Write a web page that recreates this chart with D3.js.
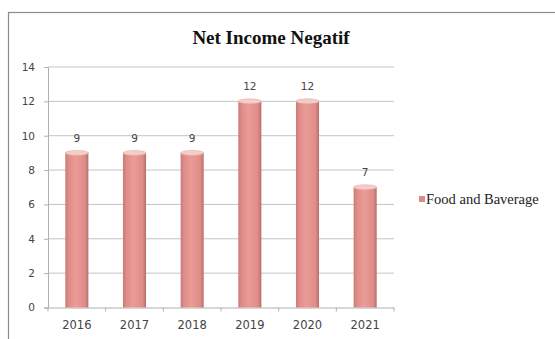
<!DOCTYPE html>
<html lang="en">
<head>
  <meta charset="UTF-8">
  <title>Net Income Negatif</title>
  <script src="https://d3js.org/d3.v7.min.js"></script>
  <style>
    body { margin: 0; background: #fff; }
    svg { display: block; }
    .tick-label { font-family: "DejaVu Sans", sans-serif; font-size: 10.5px; fill: #444; }
    .x-label { font-family: "DejaVu Sans", sans-serif; font-size: 11.5px; fill: #444; }
    .value-label { font-family: "DejaVu Sans", sans-serif; font-size: 10.5px; fill: #444; text-anchor: middle; }
  </style>
</head>
<body>
<svg width="555" height="339"></svg>
<script>
const years = ["2016", "2017", "2018", "2019", "2020", "2021"];
const values = [9, 9, 9, 12, 12, 7];
const yTicks = [0, 2, 4, 6, 8, 10, 12, 14];
const seriesName = "Food and Baverage";
const title = "Net Income Negatif";

const svg = d3.select("svg");

// outer chart frame (cropped on right/bottom in the reference)
svg.append("rect")
  .attr("x", 8.5).attr("y", 12.5)
  .attr("width", 600).attr("height", 400)
  .attr("fill", "#fff")
  .attr("stroke", "#8a8a8a")
  .attr("stroke-width", 1.2);

const plot = { left: 48, right: 394, top: 67, bottom: 307.5 };

const x = d3.scaleBand()
  .domain(years)
  .range([plot.left, plot.right])
  .paddingInner(0.6)
  .paddingOuter(0.3);

const y = d3.scaleLinear()
  .domain([0, 14])
  .range([plot.bottom, plot.top]);

// gradient for cylinder look
const defs = svg.append("defs");
const grad = defs.append("linearGradient").attr("id", "cyl")
  .attr("x1", "0%").attr("x2", "100%").attr("y1", "0%").attr("y2", "0%");
grad.append("stop").attr("offset", "0%").attr("stop-color", "#c97a78");
grad.append("stop").attr("offset", "15%").attr("stop-color", "#e08c88");
grad.append("stop").attr("offset", "45%").attr("stop-color", "#eb9c97");
grad.append("stop").attr("offset", "85%").attr("stop-color", "#e08c88");
grad.append("stop").attr("offset", "100%").attr("stop-color", "#b86e6c");

// gridlines
svg.append("g")
  .selectAll("line")
  .data(yTicks.filter(d => d > 0))
  .join("line")
  .attr("x1", plot.left).attr("x2", plot.right)
  .attr("y1", d => y(d)).attr("y2", d => y(d))
  .attr("stroke", "#c4c4c4").attr("stroke-width", 1);

// y axis
const yAxis = svg.append("g")
  .attr("transform", `translate(${plot.left},0)`)
  .call(d3.axisLeft(y).tickValues(yTicks).tickSize(4).tickPadding(9));
yAxis.select(".domain").attr("stroke", "#b0b0b0");
yAxis.selectAll(".tick line").attr("stroke", "#b0b0b0");
yAxis.selectAll(".tick text").attr("class", "tick-label");

// x axis
const xAxis = svg.append("g")
  .attr("transform", `translate(0,${plot.bottom})`)
  .call(d3.axisBottom(x).tickSize(0).tickPadding(13));
xAxis.select(".domain").attr("stroke", "#b0b0b0");
xAxis.selectAll(".tick text").attr("class", "x-label");

// category separator ticks
svg.append("g")
  .selectAll("line")
  .data(d3.range(years.length + 1))
  .join("line")
  .attr("x1", i => plot.left + i * (plot.right - plot.left) / years.length)
  .attr("x2", i => plot.left + i * (plot.right - plot.left) / years.length)
  .attr("y1", plot.bottom).attr("y2", plot.bottom + 4)
  .attr("stroke", "#b0b0b0");

// bars
const bars = svg.append("g")
  .selectAll("g")
  .data(years.map((yr, i) => ({ yr, v: values[i] })))
  .join("g");

bars.append("rect")
  .attr("x", d => x(d.yr))
  .attr("y", d => y(d.v))
  .attr("width", x.bandwidth())
  .attr("height", d => y(0) - y(d.v))
  .attr("fill", "url(#cyl)");

bars.append("ellipse")
  .attr("cx", d => x(d.yr) + x.bandwidth() / 2)
  .attr("cy", d => y(d.v))
  .attr("rx", x.bandwidth() / 2)
  .attr("ry", 2.5)
  .attr("fill", "#f4cdc9")
  .attr("stroke", "#dca09c")
  .attr("stroke-width", 0.5);

bars.append("text")
  .attr("class", "value-label")
  .attr("x", d => x(d.yr) + x.bandwidth() / 2)
  .attr("y", d => y(d.v) - 11)
  .text(d => d.v);

// title
svg.append("text")
  .attr("x", 271).attr("y", 44)
  .attr("text-anchor", "middle")
  .attr("font-family", "'Liberation Serif', 'Times New Roman', serif")
  .attr("font-weight", "bold")
  .attr("font-size", 19)
  .attr("fill", "#111")
  .text(title);

// legend
svg.append("rect")
  .attr("x", 419).attr("y", 196)
  .attr("width", 6).attr("height", 6)
  .attr("fill", "#d98c8c");
svg.append("text")
  .attr("x", 426).attr("y", 203.5)
  .attr("font-family", "'Liberation Serif', 'Times New Roman', serif")
  .attr("font-size", 14.5)
  .attr("fill", "#222")
  .text(seriesName);
</script>
</body>
</html>
